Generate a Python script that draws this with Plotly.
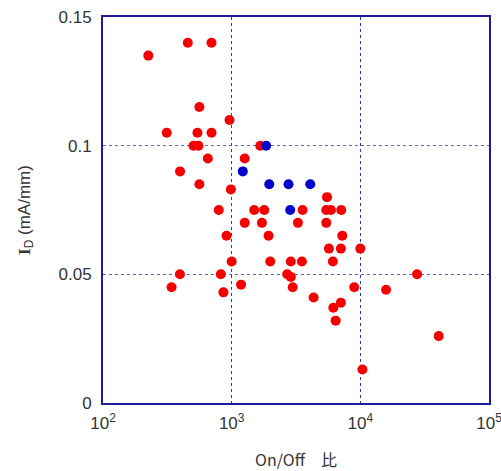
import plotly.graph_objects as go

# On/Off ratio and I_D (mA/mm) — red series
red_onoff = [225, 456, 697, 561, 962, 313, 542, 697, 505, 552, 1667, 653, 1263, 397,
             561, 986, 794, 1497, 1791, 3557, 5435, 5912, 7110, 5510, 1263, 1718, 3274,
             5435, 912, 1936, 7240, 5700, 7060, 10000, 1000, 1995, 2882, 3514, 6120,
             396, 824, 2700, 2882, 27600, 341, 863, 1183, 2981, 4333, 8970, 15850,
             6170, 7060, 6430, 10380, 40700]
red_id = [0.135, 0.14, 0.14, 0.115, 0.11, 0.105, 0.105, 0.105, 0.1, 0.1, 0.1, 0.095, 0.095, 0.09,
          0.085, 0.083, 0.075, 0.075, 0.075, 0.075, 0.075, 0.075, 0.075, 0.08, 0.07, 0.07, 0.07,
          0.07, 0.065, 0.065, 0.065, 0.06, 0.06, 0.06, 0.055, 0.055, 0.055, 0.055, 0.055,
          0.05, 0.05, 0.05, 0.049, 0.05, 0.045, 0.043, 0.046, 0.045, 0.041, 0.045, 0.044,
          0.037, 0.039, 0.032, 0.013, 0.026]

# Blue series
blue_onoff = [1853, 1220, 1960, 2767, 4080, 2851]
blue_id = [0.1, 0.09, 0.085, 0.085, 0.085, 0.075]

x_tickvals = [100, 1000, 10000, 100000]
x_ticktext = ["10<sup>2</sup>", "10<sup>3</sup>", "10<sup>4</sup>", "10<sup>5</sup>"]
y_tickvals = [0, 0.05, 0.1, 0.15]
y_ticktext = ["0", "0.05", "0.1", "0.15"]

fig = go.Figure()
fig.add_trace(go.Scatter(x=red_onoff, y=red_id, mode="markers",
                         marker=dict(color="#f50000", size=10, line=dict(width=0)),
                         showlegend=False))
fig.add_trace(go.Scatter(x=blue_onoff, y=blue_id, mode="markers",
                         marker=dict(color="#0000c8", size=10, line=dict(width=0)),
                         showlegend=False))

fig.update_layout(
    width=501, height=471,
    margin=dict(l=103, r=12, t=17, b=68),
    paper_bgcolor="white", plot_bgcolor="white",
    font=dict(family="Liberation Sans, Arial, sans-serif", size=17, color="#333333"),
    xaxis=dict(
        type="log", range=[2, 5], automargin=False, ticklabeloverflow="allow",
        tickvals=x_tickvals, ticktext=x_ticktext,
        showline=True, linecolor="#1c1c9c", linewidth=2, mirror=True,
        showgrid=True, gridcolor="#2a3ab8", griddash="dot", gridwidth=1,
        zeroline=False, ticks="", ticklabelstandoff=4,
        title=dict(text="On/Off\u3000比", standoff=22,
                   font=dict(family="Noto Sans CJK JP, Liberation Sans, sans-serif", size=16)),
    ),
    yaxis=dict(
        range=[0, 0.15], automargin=False, ticklabeloverflow="allow",
        tickvals=y_tickvals, ticktext=y_ticktext,
        showline=True, linecolor="#1c1c9c", linewidth=2, mirror=True,
        showgrid=True, gridcolor="#5a66b8", griddash="dot", gridwidth=1,
        zeroline=False, ticks="", ticklabelstandoff=6,
        title=dict(text="<b><span style='font-family:Liberation Serif'>I</span></b><sub>D</sub> (mA/mm)",
                   standoff=24, font=dict(size=17)),
    ),
)

fig.write_html("out.html",
               config={"displayModeBar": False},
               post_script="document.body.style.margin='0';document.body.style.overflow='hidden';")
